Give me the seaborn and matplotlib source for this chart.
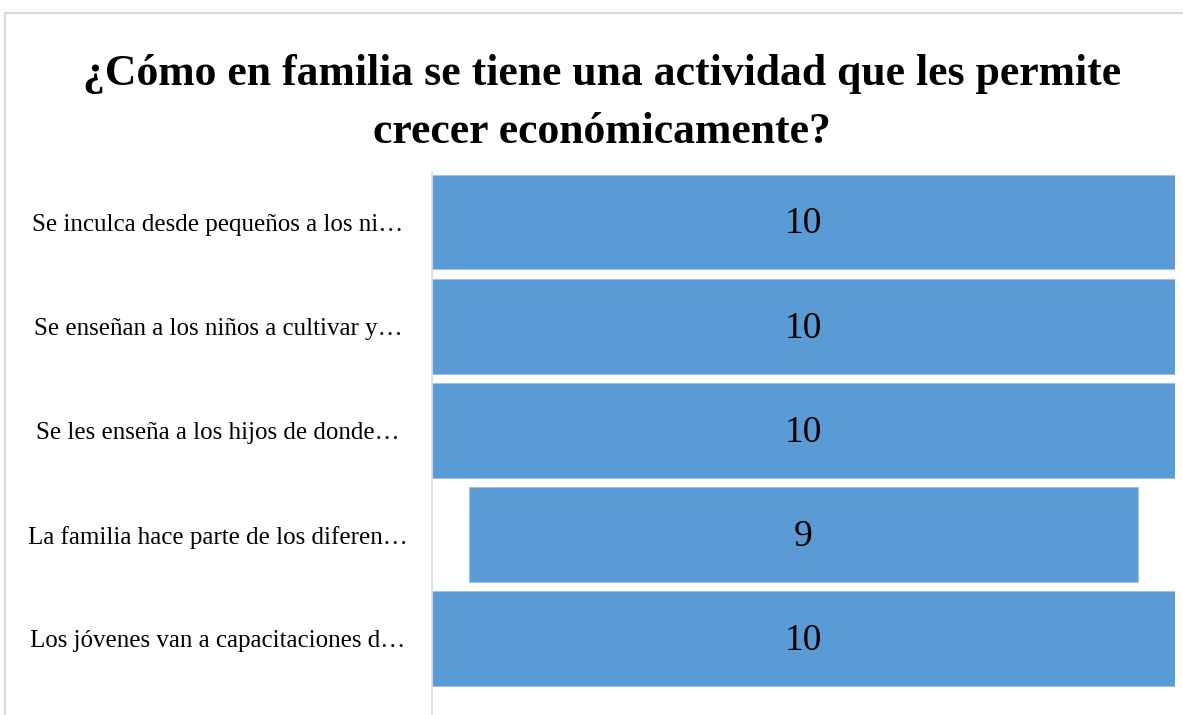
import numpy as np
import pandas as pd
import matplotlib.pyplot as plt
import seaborn as sns
from matplotlib.patches import Rectangle

# datos
categorias = [
    "Se inculca desde pequeños a los ni…",
    "Se enseñan a los niños a cultivar y…",
    "Se les enseña a los hijos de donde…",
    "La familia hace parte de los diferen…",
    "Los jóvenes van a capacitaciones d…",
]
valores = [10, 10, 10, 9, 10]
titulo = "¿Cómo en familia se tiene una actividad que les permite\ncrecer económicamente?"

df = pd.DataFrame({"categoria": categorias, "valor": valores})

sns.set_theme(style="white")
plt.rcParams["font.family"] = ["Liberation Serif", "DejaVu Serif"]
plt.rcParams["text.color"] = "black"
plt.rcParams["ytick.color"] = "black"

W, H = 1183, 715
fig = plt.figure(figsize=(W / 100, H / 100), dpi=100)
ax = fig.add_axes([432 / W, 0, (1175 - 432) / W, (715 - 172) / H])

sns.barplot(data=df, x="valor", y="categoria", orient="h", color="#5B9BD5",
            saturation=1, width=0.91, edgecolor="#9DC3E6", linewidth=0.8, ax=ax)

# embudo: centrar cada barra
vmax = max(valores)
for p, v in zip(ax.patches, valores):
    p.set_x((vmax - v) / 2)
    ax.text(vmax / 2, p.get_y() + p.get_height() / 2 + 0.02, str(v),
            ha="center", va="center", fontsize=27, color="black")

ax.set_xlim(0, vmax)
ax.set_ylim(4.73, -0.48)
ax.set_xlabel("")
ax.set_ylabel("")
ax.set_xticks([])
for s in ["top", "right", "bottom"]:
    ax.spines[s].set_visible(False)
ax.spines["left"].set_color("#D9D9D9")
ax.spines["left"].set_linewidth(1.2)

ax.set_yticks(range(len(categorias)))
ax.set_yticklabels(categorias, fontsize=18, ha="center", color="black")
ax.tick_params(axis="y", length=0, pad=154)

fig.text(602 / W, 1 - 103 / H, titulo, ha="center", va="center",
         fontsize=31.5, fontweight="bold", linespacing=1.58, color="black")

# marco del gráfico
fig.patches.append(Rectangle((5 / W, -0.1), 1.1, 1.1 - 13 / H, transform=fig.transFigure,
                             fill=False, edgecolor="#D9D9D9", linewidth=1.5))

fig.savefig("out.png", dpi=100)
